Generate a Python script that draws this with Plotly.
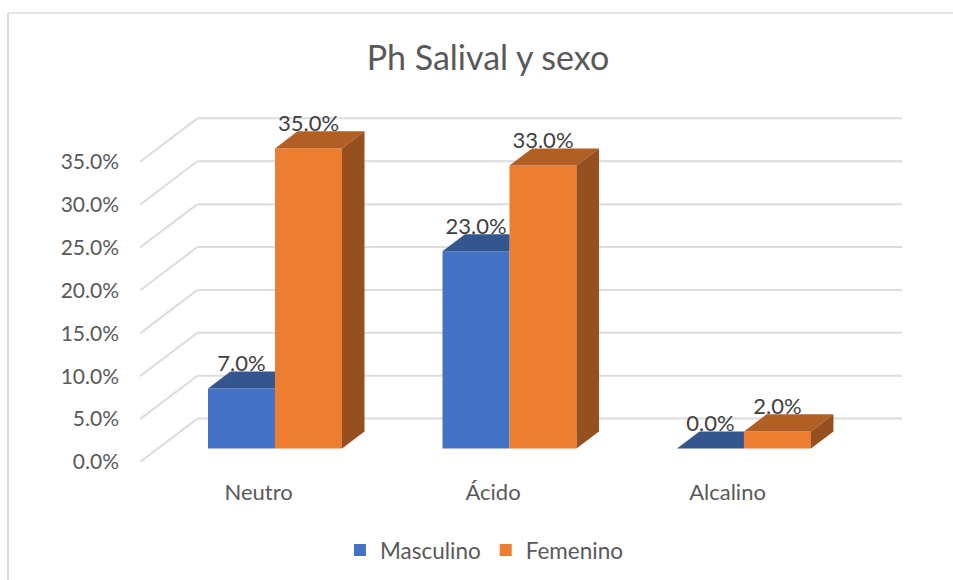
import plotly.graph_objects as go

categories = ["Neutro", "Ácido", "Alcalino"]
masculino = [7.0, 23.0, 0.0]
femenino = [35.0, 33.0, 2.0]
y_ticks = [0, 5, 10, 15, 20, 25, 30, 35]

FONT = "Lato, Carlito, Calibri, sans-serif"
GREY = "#595959"
LABEL = "#404040"
GRID = "#DCDCDC"
BLUE, BLUE_TOP = "#4472C4", "#34568F"
ORANGE, ORANGE_TOP, ORANGE_SIDE = "#ED7D31", "#B15F24", "#964F1E"

# the 3D look is a fake: axis units, one category = 234.5px, one % = 8.571px
X_RANGE = [-0.5757, 2.674]
Y_RANGE = [0, 42.2]
BAR_W = 0.2857
FLOOR = 1.56        # bar feet sit a bit behind the front edge of the floor
DEPTH_X, DEPTH_Y = 0.096, 2.0   # bar depth
WALL_X, WALL_Y = 0.245, 5.06    # floor depth, front edge to back wall
LABEL_GAP = 0.7     # data label centre above the back edge of the bar top


def face(xs, ys, color):
    return go.Scatter(x=xs, y=ys, mode="lines", fill="toself", fillcolor=color,
                      line=dict(width=0), hoverinfo="skip", showlegend=False)


fig = go.Figure()
fig.add_trace(go.Bar(x=[0, 1, 2], y=masculino, base=FLOOR, name="Masculino",
                     marker=dict(color=BLUE, line=dict(width=0))))
fig.add_trace(go.Bar(x=[0, 1, 2], y=femenino, base=FLOOR, name="Femenino",
                     marker=dict(color=ORANGE, line=dict(width=0))))

for i in range(len(categories)):
    # blue top stops at the orange bar, which always stands taller here
    t = FLOOR + masculino[i]
    fig.add_trace(face([i - BAR_W, i - BAR_W + DEPTH_X, i, i],
                       [t, t + DEPTH_Y, t + DEPTH_Y, t], BLUE_TOP))
    t = FLOOR + femenino[i]
    fig.add_trace(face([i, i + DEPTH_X, i + BAR_W + DEPTH_X, i + BAR_W],
                       [t, t + DEPTH_Y, t + DEPTH_Y, t], ORANGE_TOP))
    fig.add_trace(face([i + BAR_W, i + BAR_W + DEPTH_X, i + BAR_W + DEPTH_X, i + BAR_W],
                       [FLOOR, FLOOR + DEPTH_Y, t + DEPTH_Y, t], ORANGE_SIDE))

label_x = [i - BAR_W / 2 for i in range(3)] + [i + BAR_W / 2 for i in range(3)]
label_y = [FLOOR + v + DEPTH_Y + LABEL_GAP for v in masculino + femenino]
fig.add_trace(go.Scatter(x=label_x, y=label_y, mode="text",
                         text=[f"{v:.1f}%" for v in masculino + femenino],
                         textposition="middle center",
                         textfont=dict(family=FONT, size=22, color=LABEL),
                         hoverinfo="skip", showlegend=False))

# walls: diagonal on the left side plus the line along the back
for tick in y_ticks:
    fig.add_shape(type="line", layer="below", xref="x", yref="y",
                  x0=X_RANGE[0], y0=tick, x1=X_RANGE[0] + WALL_X, y1=tick + WALL_Y,
                  line=dict(color=GRID, width=2))
    fig.add_shape(type="line", layer="below", xref="x", yref="y",
                  x0=X_RANGE[0] + WALL_X, y0=tick + WALL_Y, x1=X_RANGE[1], y1=tick + WALL_Y,
                  line=dict(color=GRID, width=2))

# chart frame, only left and top show in the screenshot
fig.add_shape(type="line", xref="paper", yref="paper", x0=-0.1732, y0=1.2405, x1=1.07, y1=1.2405,
              line=dict(color=GRID, width=1.5))
fig.add_shape(type="line", xref="paper", yref="paper", x0=-0.1732, y0=1.2405, x1=-0.1732, y1=-0.33,
              line=dict(color=GRID, width=2))

fig.update_layout(
    width=953, height=580,
    margin=dict(l=140, r=51, t=100, b=118.3, autoexpand=False),
    paper_bgcolor="white", plot_bgcolor="rgba(0,0,0,0)",
    font=dict(family=FONT, color=GREY, size=21),
    title=dict(text="Ph Salival y sexo", x=488 / 953, xanchor="center",
               y=1 - 58 / 580, yanchor="middle",
               font=dict(family=FONT, size=34, color=GREY)),
    barmode="group", bargap=1 - 2 * BAR_W, bargroupgap=0,
    legend=dict(orientation="h", x=0.452, xanchor="center", y=-0.244, yanchor="middle",
                font=dict(family=FONT, size=22.5, color=GREY), itemclick=False),
    xaxis=dict(range=X_RANGE, showgrid=False, zeroline=False, showline=False,
               tickvals=[i - 0.07 for i in range(3)], ticktext=categories,
               tickfont=dict(size=22), ticks="", ticklabelstandoff=15),
    yaxis=dict(range=Y_RANGE, showgrid=False, zeroline=False, showline=False,
               tickvals=y_ticks, ticktext=[f"{t:.1f}%" for t in y_ticks],
               ticks="", ticklabelstandoff=20),
)

fig.write_html("out.html", config=dict(displayModeBar=False),
               post_script="document.body.style.margin='0'")
